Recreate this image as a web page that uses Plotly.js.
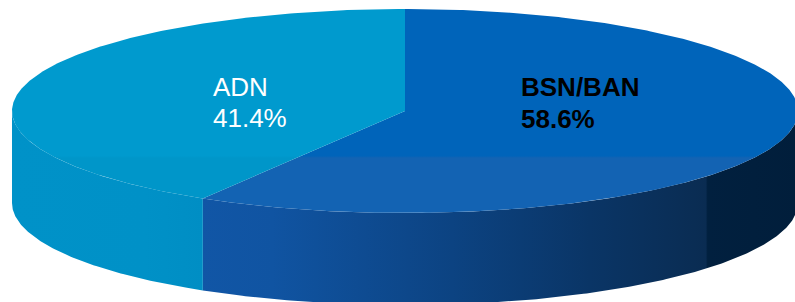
<!DOCTYPE html>
<html>
<head>
<meta charset="utf-8">
<script src="https://cdn.plot.ly/plotly-3.0.1.min.js"></script>
<style>html,body{margin:0;padding:0;background:#fff;}#chart{width:795px;height:302px;}</style>
</head>
<body>
<div id="chart"></div>
<script>
// ---- data ----
const labels = ['BSN/BAN', 'ADN'];
const shares = [58.6, 41.4];          // percent
const labelColors = ['#000000', '#ffffff'];
const labelBold = [true, false];

// ---- styling / geometry of the tilted pie (pixel-space axes) ----
const cx = 405, cy = 111, rx = 393, ry = 102, depth = 92;
const topGradients = [
  [[0, '#0064BA'], [0.72, '#0064BA'], [0.73, '#1363B3'], [1, '#1363B3']],
  [[0, '#009ACE'], [0.72, '#009ACE'], [0.73, '#0096C9'], [1, '#0096C9']]
];
// horizontal gradient ranges (pixel x) for each side wall
const sideRanges = [[200, 800], [10, 280]];
const sideGradients = [
  [[0, '#1156A6'], [0.12, '#1054A2'], [0.42, '#0C4382'], [0.65, '#0A3566'], [0.843, '#0A2C52'], [0.846, '#01203F'], [1, '#011E3B']],
  [[0, '#0092C8'], [0.5, '#0091C7'], [1, '#008AC0']]
];

function pt(phiDeg, dy) {
  const r = phiDeg * Math.PI / 180;
  return [cx + rx * Math.sin(r), cy - ry * Math.cos(r) + dy];
}
function arc(a, b, dy) {
  const xs = [], ys = [];
  const n = Math.max(2, Math.ceil(Math.abs(b - a) / 0.5));
  for (let i = 0; i <= n; i++) {
    const p = pt(a + (b - a) * i / n, dy);
    xs.push(p[0]); ys.push(p[1]);
  }
  return [xs, ys];
}

const total = shares.reduce((s, v) => s + v, 0);
const slices = [];
let acc = 0;
shares.forEach((v, i) => {
  const a = acc / total * 360, b = (acc + v) / total * 360;
  slices.push({a, b, i});
  acc += v;
});

const sideTraces = [], topTraces = [];
slices.forEach(s => {
  // visible side wall: the front half, 90..270 degrees
  const a = Math.max(s.a, 90), b = Math.min(s.b, 270);
  if (b > a) {
    const [tx, ty] = arc(a, b, 0);
    const [bx, by] = arc(b, a, depth);
    const xs = tx.concat(bx), ys = ty.concat(by);
    sideTraces.push({
      type: 'scatter', mode: 'lines', x: xs, y: ys, fill: 'toself',
      line: {width: 0, color: 'rgba(0,0,0,0)'},
      fillgradient: {type: 'horizontal', colorscale: sideGradients[s.i],
        start: sideRanges[s.i][0], stop: sideRanges[s.i][1]},
      hoverinfo: 'skip'
    });
  }
  const [ax, ay] = arc(s.a, s.b, 0);
  topTraces.push({
    type: 'scatter', mode: 'lines', x: [cx].concat(ax, [cx]), y: [cy].concat(ay, [cy]),
    fill: 'toself', line: {width: 0, color: 'rgba(0,0,0,0)'},
    fillgradient: {type: 'vertical', colorscale: topGradients[s.i], start: cy - ry, stop: cy + ry},
    hoverinfo: 'skip'
  });
});

// label positions (layout)
const labelPos = [{x: 519, y1: 87, y2: 119}, {x: 211, y1: 87, y2: 118}];
const annotations = [];
labels.forEach((lab, i) => {
  const f = {family: 'Liberation Sans, Arial, sans-serif', size: 26, color: labelColors[i],
             weight: labelBold[i] ? 'bold' : 'normal'};
  annotations.push({x: labelPos[i].x, y: labelPos[i].y1, xref: 'x', yref: 'y', text: lab,
    showarrow: false, xanchor: 'left', yanchor: 'middle', font: f});
  annotations.push({x: labelPos[i].x, y: labelPos[i].y2, xref: 'x', yref: 'y',
    text: shares[i].toFixed(1) + '%', showarrow: false, xanchor: 'left', yanchor: 'middle', font: f});
});

Plotly.newPlot('chart', sideTraces.concat(topTraces), {
  width: 795, height: 302,
  margin: {l: 0, r: 0, t: 0, b: 0},
  paper_bgcolor: '#ffffff', plot_bgcolor: '#ffffff',
  showlegend: false, hovermode: false,
  xaxis: {range: [0, 795], visible: false, fixedrange: true},
  yaxis: {range: [302, 0], visible: false, fixedrange: true},
  annotations: annotations
}, {staticPlot: true, displayModeBar: false});
</script>
</body>
</html>
